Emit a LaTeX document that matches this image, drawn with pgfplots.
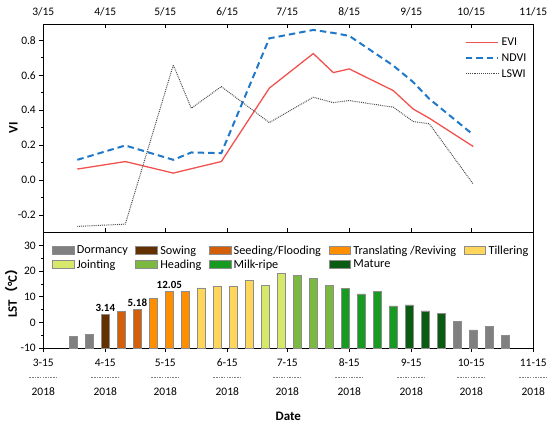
\documentclass[border=0pt]{standalone}
\usepackage{fontspec}
\setmainfont{Carlito}
\newfontfamily\cjk{Noto Sans CJK SC}
\usepackage{pgfplots}
\pgfplotsset{compat=1.18}
\definecolor{evi}{HTML}{F0524F}
\definecolor{ndvi}{HTML}{1F78C8}
\definecolor{lswi}{HTML}{4A4A4A}
\definecolor{cDorm}{HTML}{808080}
\definecolor{cSow}{HTML}{633000}
\definecolor{cSeed}{HTML}{D35F08}
\definecolor{cTrans}{HTML}{FF8F00}
\definecolor{cTill}{HTML}{FFD65C}
\definecolor{cJoint}{HTML}{D8E86A}
\definecolor{cHead}{HTML}{7BB940}
\definecolor{cMilk}{HTML}{179A20}
\definecolor{cMat}{HTML}{0B5C13}
\newcommand{\dashline}{\hbox to 29bp{\color{black!50}\xleaders\hbox to 2.5bp{\hss\vrule width 1.6bp height 4.05bp depth -3.4bp\hss}\hfill}}
\newcommand{\xl}[1]{\strut#1\\\strut\dashline\\\strut2018}
\pgfplotsset{
  stage/.style={ybar, bar width=8.3bp, bar shift=0pt, fill=#1, draw=black!45, line width=0.5bp,
    legend image code/.code={\draw[##1] (0bp,-4.15bp) rectangle (21.7bp,4.15bp);}},
  common/.style={scale only axis, width=490bp, xmin=74, xmax=319,
    xtick={74,105,135,166,196,227,258,288,319},
    tick align=outside, major tick length=4bp, minor tick length=2.2bp,
    tick style={black, line width=0.7bp},
    axis line style={line width=0.8bp},
    ticklabel style={font=\fontsize{11.5}{12}\selectfont},
    ytick pos=left, minor y tick num=1,
    label style={font=\bfseries\fontsize{13}{14}\selectfont},
  },
}
\begin{document}
\begin{tikzpicture}
\path[use as bounding box] (-43.3bp,-399bp) rectangle (506.7bp,24bp);
\begin{axis}[common,
  name=top, at={(0,0)}, anchor=north west, height=208bp,
  ymin=-0.297, ymax=0.893,
  xticklabels={3/15,4/15,5/15,6/15,7/15,8/15,9/15,10/15,11/15},
  xtick pos=right, xticklabel pos=right,
  xtick style={yshift=-4bp},
  ytick={-0.2,0,0.2,0.4,0.6,0.8}, yticklabels={-0.2,0.0,0.2,0.4,0.6,0.8},
  ylabel={VI},
  ylabel style={at={(axis description cs:-0.061,0.5)}, anchor=center},
  legend cell align=left,
  legend image code/.code={\draw[#1] (0bp,0bp) -- (32.4bp,0bp);},
  legend style={draw=none, fill=none, inner sep=0pt, nodes={inner sep=0pt},
    at={(axis description cs:0.86,0.935)}, anchor=north west,
    font=\fontsize{12}{13}\selectfont, row sep=6.6bp,
    /tikz/every odd column/.append style={column sep=2.3bp}},
]
\addplot[evi, line width=1.3bp, mark=none] coordinates {
 (91,0.063) (115,0.106) (139,0.040) (148,0.065) (163,0.106) (187,0.526) (209,0.724)
 (219,0.615) (227,0.636) (249,0.512) (259,0.406) (267,0.354) (289,0.192)};
\addlegendentry{EVI}
\addplot[ndvi, line width=2bp, mark=none, dash pattern=on 6.5bp off 4bp] coordinates {
 (91,0.116) (115,0.198) (139,0.116) (148,0.158) (163,0.154) (187,0.811) (209,0.859)
 (219,0.842) (227,0.825) (249,0.655) (259,0.560) (267,0.465) (289,0.259)};
\addlegendentry{NDVI}
\addplot[lswi, line width=1bp, mark=none, dash pattern=on 0.9bp off 1bp] coordinates {
 (91,-0.265) (115,-0.252) (139,0.659) (148,0.411) (163,0.535) (187,0.329) (209,0.474)
 (219,0.443) (227,0.455) (249,0.417) (259,0.335) (267,0.322) (289,-0.023)};
\addlegendentry{LSWI}
\end{axis}
\begin{axis}[common,
  name=bot, at={(0,-208bp)}, anchor=north west, height=116bp,
  ymin=0, ymax=45.3,
  xticklabels={\xl{3-15},\xl{4-15},\xl{5-15},\xl{6-15},\xl{7-15},\xl{8-15},\xl{9-15},\xl{10-15},\xl{11-15}},
  xticklabel style={align=center, font=\fontsize{11.5}{14.5}\selectfont, yshift=-0.5bp},
  ytick={0,10,20,30,40}, yticklabels={-10,0,10,20,30},
  ylabel={LST{\cjk（}°C{\cjk）}},
  ylabel style={at={(axis description cs:-0.064,0.5)}, anchor=center},
  xlabel={Date},
  xlabel style={at={(axis description cs:0.5,-0.585)}, anchor=center},
  legend columns=5, legend cell align=left,
  legend style={draw=none, fill=none, inner sep=0pt, nodes={inner sep=0pt},
    at={(axis description cs:0.0171,0.885)}, anchor=north west,
    font=\fontsize{12.3}{13}\selectfont, row sep=4bp,
    /tikz/every odd column/.append style={column sep=2.7bp},
    /tikz/every even column/.append style={column sep=7.5bp}},
]
\addplot[stage=cDorm] table[x=d, y expr=\thisrow{v}+10] {
d v
89 -5.6
97 -4.6
281 0.4
289 -2.9
297 -1.6
305 -5.1
};
\addlegendentry{Dormancy}
\addplot[stage=cSow] table[x=d, y expr=\thisrow{v}+10] {
d v
105 3.14
};
\addlegendentry{Sowing}
\addplot[stage=cSeed] table[x=d, y expr=\thisrow{v}+10] {
d v
113 4.4
121 5.18
};
\addlegendentry{Seeding/Flooding}
\addplot[stage=cTrans] table[x=d, y expr=\thisrow{v}+10] {
d v
129 9.4
137 12.05
145 12.2
};
\addlegendentry{Translating /Reviving}
\addplot[stage=cTill] table[x=d, y expr=\thisrow{v}+10] {
d v
153 13.5
161 14.3
169 14.2
177 16.4
};
\addlegendentry{Tillering}
\addplot[stage=cJoint] table[x=d, y expr=\thisrow{v}+10] {
d v
185 14.5
193 19.1
};
\addlegendentry{Jointing}
\addplot[stage=cHead] table[x=d, y expr=\thisrow{v}+10] {
d v
201 18.4
209 17.3
217 14.5
};
\addlegendentry{Heading}
\addplot[stage=cMilk] table[x=d, y expr=\thisrow{v}+10] {
d v
225 13.3
233 11.1
241 12.2
249 6.5
};
\addlegendentry{Milk-ripe}
\addplot[stage=cMat] table[x=d, y expr=\thisrow{v}+10] {
d v
257 6.8
265 4.5
273 3.5
};
\addlegendentry{Mature}
\node[font=\bfseries\fontsize{11}{12}\selectfont, anchor=south, inner sep=0pt, yshift=2.5bp] at (axis cs:105,13.14) {3.14};
\node[font=\bfseries\fontsize{11}{12}\selectfont, anchor=south, inner sep=0pt, yshift=2.5bp] at (axis cs:121,15.18) {5.18};
\node[font=\bfseries\fontsize{11}{12}\selectfont, anchor=south, inner sep=0pt, yshift=2.5bp] at (axis cs:137,22.05) {12.05};
\end{axis}
\end{tikzpicture}
\end{document}
